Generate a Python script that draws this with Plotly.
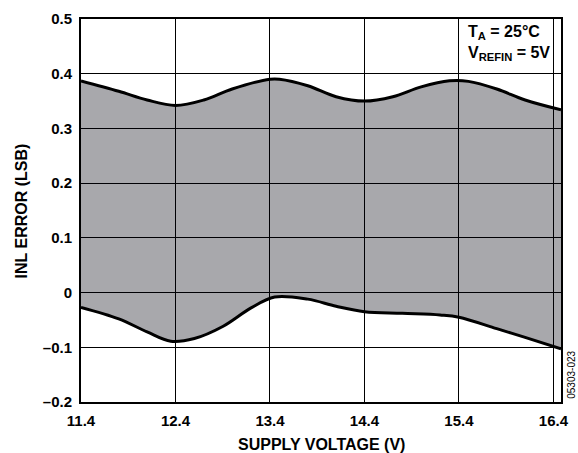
import plotly.graph_objects as go

# Supply voltage (V) sample points and INL error envelope (LSB)
upper_x = [11.4, 11.8, 12.1, 12.4, 12.7, 13.0, 13.4, 13.5, 13.8, 14.1, 14.4, 14.7, 15.0, 15.3, 15.5, 15.8, 16.1, 16.48]
upper_y = [0.387, 0.368, 0.352, 0.342, 0.352, 0.372, 0.390, 0.390, 0.378, 0.358, 0.350, 0.358, 0.376, 0.387, 0.386, 0.372, 0.352, 0.334]

lower_x = [11.4, 11.8, 12.1, 12.35, 12.6, 12.9, 13.2, 13.45, 13.8, 14.1, 14.4, 14.8, 15.2, 15.4, 15.8, 16.1, 16.48]
lower_y = [-0.027, -0.048, -0.072, -0.089, -0.084, -0.062, -0.028, -0.008, -0.012, -0.025, -0.035, -0.038, -0.041, -0.045, -0.066, -0.082, -0.103]

x_ticks = [11.4, 12.4, 13.4, 14.4, 15.4, 16.4]
x_ticktext = ["11.4", "12.4", "13.4", "14.4", "15.4", "16.4"]
y_ticks = [-0.2, -0.1, 0, 0.1, 0.2, 0.3, 0.4, 0.5]
y_ticktext = ["\u20130.2", "\u20130.1", "0", "0.1", "0.2", "0.3", "0.4", "0.5"]

x_title = "SUPPLY VOLTAGE (V)"
y_title = "INL ERROR (LSB)"

FONT = "Liberation Sans, Arial, sans-serif"

fig = go.Figure()
fig.add_trace(go.Scatter(
    x=lower_x, y=lower_y, mode="lines",
    line=dict(color="black", width=3, shape="spline", smoothing=1.0),
    showlegend=False, hoverinfo="skip"))
fig.add_trace(go.Scatter(
    x=upper_x, y=upper_y, mode="lines",
    line=dict(color="black", width=3, shape="spline", smoothing=1.0),
    fill="tonexty", fillcolor="rgba(0,0,12,0.34)",
    showlegend=False, hoverinfo="skip"))

axis_common = dict(
    showgrid=True, gridcolor="black", gridwidth=1,
    showline=True, linecolor="black", linewidth=2, mirror=True,
    ticks="", zeroline=False, automargin=False,
    tickfont=dict(family=FONT, size=15, color="black", weight="bold"),
)

fig.update_xaxes(
    range=[11.4, 16.48], tickmode="array", tickvals=x_ticks, ticktext=x_ticktext,
    ticklabelstandoff=4, **axis_common)
fig.update_yaxes(
    range=[-0.2, 0.5], tickmode="array", tickvals=y_ticks, ticktext=y_ticktext,
    ticklabelstandoff=4, **axis_common)

title_font = dict(family=FONT, size=16, color="black", weight="bold")
fig.add_annotation(
    xref="paper", yref="paper", x=0.5, y=-0.1097, xanchor="center", yanchor="middle",
    text=x_title, showarrow=False, font=title_font)
fig.add_annotation(
    xref="paper", yref="paper", x=-0.123, y=0.5, xanchor="center", yanchor="middle",
    text=y_title, textangle=-90, showarrow=False, font=title_font)

fig.add_annotation(
    xref="paper", yref="paper", x=0.80, y=0.997, xanchor="left", yanchor="top",
    text="T<sub>A</sub> = 25\u00b0C<br>V<sub>REFIN</sub> = 5V",
    showarrow=False, align="left", bgcolor="white", borderpad=2,
    font=dict(family=FONT, size=16, color="black", weight="bold"))

fig.add_annotation(
    xref="paper", yref="paper", x=1.022, y=0.07, xanchor="center", yanchor="middle",
    text="05303-023", textangle=-90, showarrow=False, borderpad=0,
    font=dict(family=FONT, size=10, color="black"))

fig.update_layout(
    width=578, height=453,
    margin=dict(l=81, r=17, t=19, b=51),
    paper_bgcolor="white", plot_bgcolor="white",
    font=dict(family=FONT, color="black"),
)

fig.write_html("out.html")
